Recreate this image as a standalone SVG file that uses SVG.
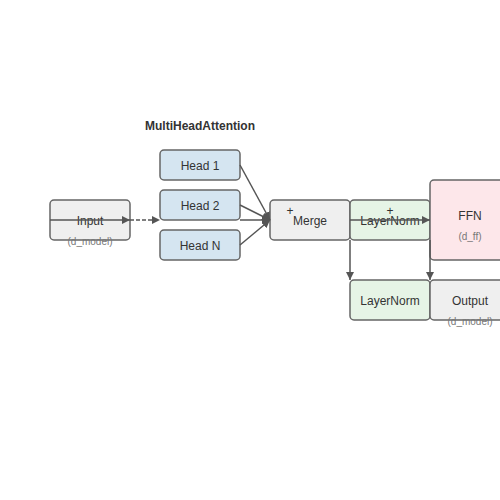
<svg xmlns="http://www.w3.org/2000/svg" width="500" height="500" viewBox="0 0 500 500">
<defs>
<style>
.box{stroke:#666;stroke-width:1.5}
.gray{fill:#efefef}
.blue{fill:#d5e5f1}
.green{fill:#e6f4e6}
.pink{fill:#fde7ea}
.lbl{font-family:"Liberation Sans",Arial,sans-serif;font-size:12px;fill:#333;text-anchor:middle}
.sub{font-family:"Liberation Sans",Arial,sans-serif;font-size:10px;fill:#777;text-anchor:middle}
.title{font-family:"Liberation Sans",Arial,sans-serif;font-size:12px;font-weight:bold;fill:#333;text-anchor:middle}
.edge{stroke:#555;stroke-width:1.5;fill:none}
</style>
<marker id="arr" viewBox="0 0 10 10" refX="10" refY="5" markerWidth="6" markerHeight="6" orient="auto" markerUnits="userSpaceOnUse">
<path d="M0,0 L10,5 L0,10 z" fill="#555"/>
</marker>
<marker id="arr8" viewBox="0 0 10 10" refX="10" refY="5" markerWidth="8" markerHeight="8" orient="auto" markerUnits="userSpaceOnUse">
<path d="M0,0 L10,5 L0,10 z" fill="#555"/>
</marker>
</defs>
<rect width="500" height="500" fill="#fff"/>
<text class="title" x="200" y="130">MultiHeadAttention</text>
<g id="input"><rect class="box gray" x="50" y="200" width="80" height="40" rx="4"/><text class="lbl" x="90" y="225">Input</text><text class="sub" x="90" y="245">(d_model)</text></g>
<g id="head1"><rect class="box blue" x="160" y="150" width="80" height="30" rx="4"/><text class="lbl" x="200" y="170">Head 1</text></g>
<g id="head2"><rect class="box blue" x="160" y="190" width="80" height="30" rx="4"/><text class="lbl" x="200" y="210">Head 2</text></g>
<g id="headN"><rect class="box blue" x="160" y="230" width="80" height="30" rx="4"/><text class="lbl" x="200" y="250">Head N</text></g>
<g id="merge"><rect class="box gray" x="270" y="200" width="80" height="40" rx="4"/><text class="lbl" x="310" y="225">Merge</text><text class="lbl" x="290" y="215">+</text></g>
<g id="layernorm1"><rect class="box green" x="350" y="200" width="80" height="40" rx="4"/><text class="lbl" x="390" y="225">LayerNorm</text><text class="lbl" x="390" y="215">+</text></g>
<g id="ffn"><rect class="box pink" x="430" y="180" width="80" height="80" rx="4"/><text class="lbl" x="470" y="220">FFN</text><text class="sub" x="470" y="240">(d_ff)</text></g>
<g id="layernorm2"><rect class="box green" x="350" y="280" width="80" height="40" rx="4"/><text class="lbl" x="390" y="305">LayerNorm</text></g>
<g id="output"><rect class="box gray" x="430" y="280" width="80" height="40" rx="4"/><text class="lbl" x="470" y="305">Output</text><text class="sub" x="470" y="325">(d_model)</text></g>
<g id="connectors">
<line class="edge" x1="50" y1="220" x2="130" y2="220" marker-end="url(#arr8)"/>
<line class="edge" x1="130" y1="220" x2="160" y2="220" stroke-dasharray="4,2" marker-end="url(#arr8)"/>
<line class="edge" x1="240" y1="165" x2="270" y2="220" marker-end="url(#arr8)"/>
<line class="edge" x1="240" y1="205" x2="270" y2="220" marker-end="url(#arr8)"/>
<line class="edge" x1="240" y1="220" x2="270" y2="220" marker-end="url(#arr8)"/>
<line class="edge" x1="240" y1="245" x2="270" y2="220" marker-end="url(#arr8)"/>
<line class="edge" x1="350" y1="220" x2="430" y2="220" marker-end="url(#arr8)"/>
<line class="edge" x1="350" y1="240" x2="350" y2="280" marker-end="url(#arr8)"/>
<line class="edge" x1="430" y1="240" x2="430" y2="280" marker-end="url(#arr8)"/>
</g>
</svg>
